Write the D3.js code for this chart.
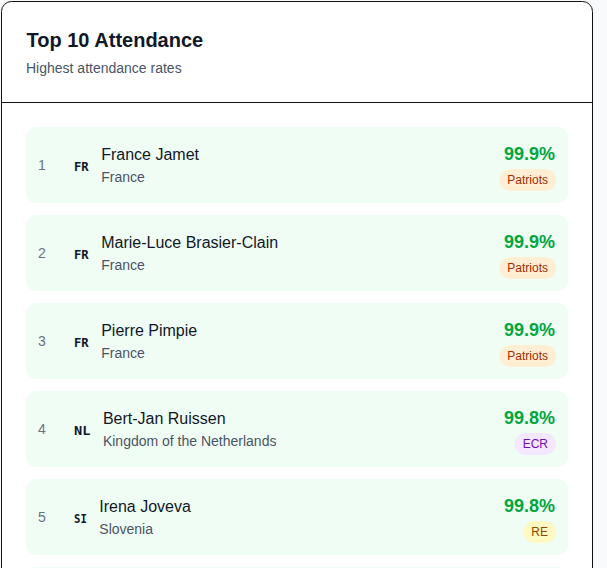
<!DOCTYPE html>
<html>
<head>
<meta charset="utf-8">
<script src="https://cdn.jsdelivr.net/npm/d3@7"></script>
<style>
  html, body { margin: 0; padding: 0; background: #f9fafb; overflow: hidden; }
  text { font-family: "Liberation Sans", Arial, sans-serif; }
</style>
</head>
<body>
<div id="chart"></div>
<script>
var ranks = [1, 2, 3, 4, 5, 6];
var names = ["France Jamet", "Marie-Luce Brasier-Clain", "Pierre Pimpie", "Bert-Jan Ruissen", "Irena Joveva"];
var countries = ["France", "France", "France", "Kingdom of the Netherlands", "Slovenia"];
var flags = ["FR", "FR", "FR", "NL", "SI"];
var rates = [99.9, 99.9, 99.9, 99.8, 99.8];
var groups = ["Patriots", "Patriots", "Patriots", "ECR", "RE"];

// badge colours per political group
var groupFill = d3.scaleOrdinal().domain(["Patriots", "ECR", "RE"]).range(["#ffedd4", "#f3e8ff", "#fef9c2"]);
var groupText = d3.scaleOrdinal().domain(["Patriots", "ECR", "RE"]).range(["#9f2d00", "#6e11b0", "#894b00"]);
// the flag codes are set in a font we don't have, so their widths are forced
var flagWidth = d3.scaleOrdinal().domain(["FR", "NL", "SI"]).range([14.7, 16.4, 12.8]);

var width = 607, height = 568;
var svg = d3.select("#chart").append("svg")
  .attr("width", width)
  .attr("height", height)
  .style("display", "block");

// card
svg.append("rect")
  .attr("x", 1.5).attr("y", 1.5)
  .attr("width", 591).attr("height", 700)
  .attr("rx", 10)
  .style("fill", "#fff")
  .style("stroke", "#111");
svg.append("line")
  .attr("x1", 2).attr("x2", 592)
  .attr("y1", 102.5).attr("y2", 102.5)
  .style("stroke", "#111");

svg.append("text").attr("x", 26.5).attr("y", 47)
  .text("Top 10 Attendance")
  .style("font-size", "20px").style("font-weight", "bold").style("fill", "#101828");
svg.append("text").attr("x", 26).attr("y", 73)
  .text("Highest attendance rates")
  .style("font-size", "14px").style("fill", "#4a5565");

var y = d3.scaleBand()
  .domain(ranks)
  .range([127, 127 + 88 * ranks.length - 12])
  .paddingInner(12 / 88)
  .paddingOuter(0);

svg.selectAll("rect.row")
  .data(ranks)
  .enter()
  .append("rect")
  .attr("class", "row")
  .attr("x", 26)
  .attr("y", function(d){ return y(d); })
  .attr("width", 542)
  .attr("height", y.bandwidth())
  .attr("rx", 10)
  .style("fill", "#f0fdf4");

var rows = svg.selectAll("g.item")
  .data(names)
  .enter()
  .append("g")
  .attr("class", "item")
  .attr("transform", function(d, i){ return "translate(0," + y(ranks[i]) + ")"; });

rows.append("text")
  .attr("x", 38).attr("y", 43)
  .text(function(d, i){ return ranks[i]; })
  .style("font-size", "14px").style("fill", "#6a7282");

rows.append("text")
  .attr("x", 74).attr("y", 44)
  .attr("textLength", function(d, i){ return flagWidth(flags[i]); })
  .attr("lengthAdjust", "spacingAndGlyphs")
  .text(function(d, i){ return flags[i]; })
  .style("font-family", "'DejaVu Sans Mono'")
  .style("font-size", "12px").style("font-weight", "bold").style("fill", "#101828");

// name column starts right after the flag code, so it shifts with its width
function textX(i) { return 74 + flagWidth(flags[i]) + 12.5; }

rows.append("text")
  .attr("x", function(d, i){ return textX(i); })
  .attr("y", 33)
  .text(function(d){ return d; })
  .style("font-size", "16px").style("fill", "#101828");

rows.append("text")
  .attr("x", function(d, i){ return textX(i); })
  .attr("y", 55)
  .text(function(d, i){ return countries[i]; })
  .style("font-size", "14px").style("fill", "#4a5565");

rows.append("text")
  .attr("x", 555).attr("y", 33)
  .attr("text-anchor", "end")
  .text(function(d, i){ return rates[i].toFixed(1) + "%"; })
  .style("font-size", "18px").style("font-weight", "bold").style("fill", "#00a63e");

var badge = rows.append("rect")
  .attr("y", 42)
  .attr("height", 22)
  .attr("rx", 11)
  .style("fill", function(d, i){ return groupFill(groups[i]); });

var badgeText = rows.append("text")
  .attr("x", 548).attr("y", 57)
  .attr("text-anchor", "end")
  .text(function(d, i){ return groups[i]; })
  .style("font-size", "12px")
  .style("fill", function(d, i){ return groupText(groups[i]); });

badgeText.each(function(d, i){
  var w = this.getComputedTextLength() + 16;
  badge.filter(function(b, j){ return j === i; })
    .attr("x", 556 - w)
    .attr("width", w);
});
</script>
</body>
</html>
